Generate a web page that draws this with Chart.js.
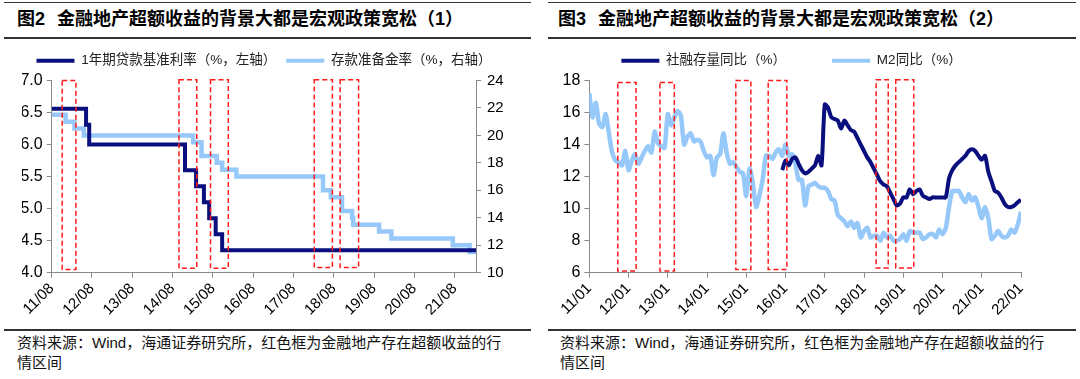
<!DOCTYPE html>
<html><head><meta charset="utf-8">
<script src="https://cdn.jsdelivr.net/npm/chart.js@4/dist/chart.umd.min.js"></script>
<style>
html,body{margin:0;padding:0;background:#fff;width:1080px;height:379px;overflow:hidden;}
body{position:relative;font-family:"Liberation Sans","Noto Sans CJK SC",sans-serif;color:#000;}
.rule{position:absolute;background:#333;}
.title{position:absolute;top:8px;font-size:18px;font-weight:bold;line-height:22px;white-space:nowrap;color:#000;}
.title span.t{margin-left:12px;}
.src{position:absolute;top:333px;font-size:15px;line-height:20px;color:#111;white-space:nowrap;}
canvas.cv{position:absolute;top:44px;}
</style></head><body>
<div class="rule" style="left:4px;top:2px;width:527px;height:1px;"></div>
<div class="rule" style="left:4px;top:37px;width:527px;height:2px;"></div>
<div class="rule" style="left:4px;top:329px;width:527px;height:2px;"></div>
<div class="rule" style="left:548px;top:2px;width:528px;height:1px;"></div>
<div class="rule" style="left:548px;top:37px;width:528px;height:2px;"></div>
<div class="rule" style="left:548px;top:329px;width:528px;height:2px;"></div>
<div class="title" style="left:17px;"><span>图2</span><span class="t">金融地产超额收益的背景大都是宏观政策宽松（1）</span></div>
<div class="title" style="left:558px;"><span>图3</span><span class="t">金融地产超额收益的背景大都是宏观政策宽松（2）</span></div>
<div class="src" style="left:17px;">资料来源：Wind，海通证券研究所，红色框为金融地产存在超额收益的行<br>情区间</div>
<div class="src" style="left:560px;">资料来源：Wind，海通证券研究所，红色框为金融地产存在超额收益的行<br>情区间</div>
<canvas id="c1" class="cv" width="540" height="286" style="left:0px;"></canvas>
<canvas id="c2" class="cv" width="540" height="286" style="left:540px;"></canvas>
<script>
// ---------- Data: chart 1 (monthly axis starting 2011-08) ----------
const leftTickLabels = ['11/08','12/08','13/08','14/08','15/08','16/08','17/08','18/08','19/08','20/08','21/08'];
const leftAxisEnd = '2022-02-12';
const lendDates = ['2011-08-01','2012-06-08','2012-07-06','2014-11-22','2015-03-01','2015-05-11','2015-06-28','2015-08-26','2015-10-24','2022-02-12'];
const lendRates = [6.56, 6.31, 6.00, 5.60, 5.35, 5.10, 4.85, 4.60, 4.35, 4.35];
const rrrDates = ['2011-08-01','2011-12-05','2012-02-24','2012-05-18','2015-02-05','2015-04-20','2015-09-06','2015-10-24','2016-03-01','2018-04-25','2018-07-05','2018-10-15','2019-01-15','2019-01-25','2019-09-16','2020-01-06','2021-07-15','2021-12-15','2022-02-12'];
const rrrValues = [21.5, 21.0, 20.5, 20.0, 19.5, 18.5, 18.0, 17.5, 17.0, 16.0, 15.5, 14.5, 14.0, 13.5, 13.0, 12.5, 12.0, 11.5, 11.5];
const leftBoxStarts = ['2011-11-05','2014-09-28','2015-07-10','2018-02-07','2018-09-28'];
const leftBoxEnds   = ['2012-03-07','2015-03-07','2015-12-19','2018-07-19','2019-03-13'];
const leftBoxLows   = [4.05, 4.07, 4.07, 4.08, 4.08];
const leftBoxHighs  = [7.0, 7.01, 7.01, 7.01, 7.01];

// ---------- Data: chart 2 (monthly axis starting 2011-01) ----------
const rightTickLabels = ['11/01','12/01','13/01','14/01','15/01','16/01','17/01','18/01','19/01','20/01','21/01','22/01'];
const m2Start = '2011-01';
const m2Values = [
 17.2,15.7,16.6,15.3,15.1,15.9,14.7,13.5,13.0,12.9,12.7,13.6,
 12.4,13.0,13.4,12.8,13.2,13.6,13.9,13.5,14.8,14.1,13.9,13.8,
 15.9,15.2,15.7,16.1,15.8,14.0,14.5,14.7,14.2,14.3,14.2,13.6,
 13.2,13.3,12.1,13.2,13.4,14.7,13.5,12.8,12.9,12.6,12.3,12.2,
 10.8,12.5,11.6,10.1,10.8,11.8,13.3,13.3,13.1,13.5,13.7,13.3,
 14.0,13.3,13.4,12.8,11.8,11.8,10.2,11.4,11.5,11.6,11.4,11.3,
 11.3,11.1,10.6,10.5,9.6,9.4,9.2,8.9,9.2,8.8,9.1,8.2,
 8.6,8.8,8.2,8.3,8.3,8.0,8.5,8.2,8.3,8.0,8.0,8.1,
 8.4,8.0,8.6,8.5,8.5,8.5,8.1,8.2,8.4,8.4,8.2,8.7,
 8.4,8.8,10.1,11.1,11.1,11.1,10.7,10.4,10.9,10.5,10.7,10.1,
 9.4,10.1,9.4,8.1,8.3,8.6,8.3,8.2,8.3,8.7,8.5,9.0,
 9.8];
const tsfStart = '2015-12';
const tsfValues = [
 12.4,
 13.0,12.7,13.1,13.2,12.8,12.4,12.2,12.3,12.5,12.7,13.3,12.7,
 16.5,16.3,15.7,15.6,15.5,15.0,15.5,15.2,14.9,14.8,14.4,14.0,
 13.6,13.2,12.9,12.5,12.1,11.7,11.5,11.4,11.0,10.6,10.2,10.3,
 10.7,10.7,11.2,10.9,11.1,11.2,10.8,10.7,10.6,10.7,10.7,10.7,
 10.7,10.7,11.9,12.4,12.7,12.9,13.1,13.3,13.6,13.7,13.6,13.3,
 13.05,13.3,12.3,11.7,11.1,11.0,10.7,10.3,10.1,10.1,10.2,10.4,
 10.55];
const rightAxisEnd = '2022-01';
const rightBoxStarts = ['2011-09-22','2012-10-19','2014-09-25','2015-07-22','2018-04-22','2018-10-22'];
const rightBoxEnds   = ['2012-03-10','2013-03-01','2015-02-13','2016-01-13','2018-08-13','2019-04-07'];
const rightBoxLows   = [6.1, 6.1, 6.2, 6.2, 6.3, 6.3];
const rightBoxHighs  = [17.88, 17.88, 18.0, 18.0, 18.05, 18.05];

// ---------- helpers ----------
function monthIdx(s, base) {
  const p = s.split('-').map(Number), b = base.split('-').map(Number);
  return (p[0]-b[0])*12 + (p[1]-b[1]) + ((p[2]||1)-1)/30;
}
const FONT = '"Liberation Sans","Noto Sans CJK SC",sans-serif';
const NAVY = '#0a0f7e';
const LIGHT = '#96c9fa';
const AX = '#8a8a8a';
Chart.defaults.font.family = FONT;

const boxPlugin = {
  id: 'redBoxes',
  afterDatasetsDraw(chart, args, opts) {
    const xs = chart.scales.x, ys = chart.scales[opts.axis];
    const ctx = chart.ctx;
    ctx.save();
    ctx.strokeStyle = '#ff1a1a';
    ctx.lineWidth = 1.5;
    ctx.setLineDash([5, 3]);
    opts.boxes.forEach(b => {
      const x1 = xs.getPixelForValue(b.x0), x2 = xs.getPixelForValue(b.x1);
      const y1 = ys.getPixelForValue(b.hi), y2 = ys.getPixelForValue(b.lo);
      ctx.strokeRect(x1, y1, x2 - x1, y2 - y1);
    });
    ctx.restore();
  }
};

function legendCfg(pad) {
  return {
    position: 'top', weight: 3000,
    labels: {
      boxWidth: 38, boxHeight: 4, padding: pad, color: '#222', font: {size: 13.5, family: FONT},
      generateLabels: (chart) => Chart.defaults.plugins.legend.labels.generateLabels(chart)
        .map(l => Object.assign(l, {lineWidth: 0}))
    }
  };
}
function spacerTitle(h) {
  return {display: true, text: '', padding: {top: h, bottom: 0}, font: {size: 0, lineHeight: 0}};
}
function xScale(labels, max, height) {
  return {
    type: 'linear', min: 0, max: max,
    afterBuildTicks: s => { s.ticks = labels.map((_, i) => ({value: i * 12})); },
    ticks: {callback: v => labels[Math.round(v / 12)], minRotation: 45, maxRotation: 45, autoSkip: false,
            font: {size: 15, family: FONT}, color: '#000', padding: 2},
    grid: {drawOnChartArea: false, tickLength: 5, color: AX},
    border: {color: AX, width: 1},
    afterFit: s => { s.height = height; }
  };
}

// ---------- chart 1 ----------
const B1 = '2011-08';
const lendData = lendDates.map((d, i) => ({x: monthIdx(d, B1), y: lendRates[i]}));
const rrrData = rrrDates.map((d, i) => ({x: monthIdx(d, B1), y: rrrValues[i]}));
new Chart(document.getElementById('c1'), {
  type: 'line',
  data: {datasets: [
    {label: '1年期贷款基准利率（%，左轴）', data: lendData, yAxisID: 'y', borderColor: NAVY, backgroundColor: NAVY,
     borderWidth: 4, stepped: true, pointRadius: 0},
    {label: '存款准备金率（%，右轴）', data: rrrData, yAxisID: 'y1', borderColor: LIGHT, backgroundColor: LIGHT,
     borderWidth: 4.5, stepped: true, pointRadius: 0}
  ]},
  options: {
    responsive: false, animation: false, devicePixelRatio: 1,
    layout: {padding: {top: 0, left: 22, right: 34, bottom: 0}},
    plugins: {
      legend: legendCfg(10), title: spacerTitle(3), tooltip: {enabled: false},
      redBoxes: {axis: 'y', boxes: leftBoxStarts.map((s, i) => ({x0: monthIdx(s, B1), x1: monthIdx(leftBoxEnds[i], B1), lo: leftBoxLows[i], hi: leftBoxHighs[i]}))}
    },
    scales: {
      x: xScale(leftTickLabels, monthIdx(leftAxisEnd, B1), 57.3),
      y: {position: 'left', min: 4, max: 7,
          ticks: {stepSize: 0.5, callback: v => v.toFixed(1), font: {size: 16, family: FONT}, color: '#000', padding: 4},
          grid: {drawOnChartArea: false, tickLength: 5, color: AX}, border: {color: AX},
          afterFit: s => { s.width = 29.7; }},
      y1: {position: 'right', min: 10, max: 24,
          ticks: {stepSize: 2, font: {size: 15, family: FONT}, color: '#000', padding: 6},
          grid: {drawOnChartArea: false, tickLength: 5, color: AX}, border: {color: AX},
          afterFit: s => { s.width = 30; }}
    }
  },
  plugins: [boxPlugin]
});

// ---------- chart 2 ----------
const B2 = '2011-01';
const m2Off = monthIdx(m2Start, B2), tsfOff = monthIdx(tsfStart, B2);
const m2Data = m2Values.map((v, i) => ({x: m2Off + i, y: v}));
const tsfData = tsfValues.map((v, i) => ({x: tsfOff + i, y: v}));
new Chart(document.getElementById('c2'), {
  type: 'line',
  data: {datasets: [
    {label: '社融存量同比（%）', data: tsfData, borderColor: NAVY, backgroundColor: NAVY, borderWidth: 4,
     tension: 0.25, pointRadius: 0},
    {label: 'M2同比（%）', data: m2Data, borderColor: LIGHT, backgroundColor: LIGHT, borderWidth: 4.5,
     tension: 0.25, pointRadius: 0}
  ]},
  options: {
    responsive: false, animation: false, devicePixelRatio: 1,
    layout: {padding: {top: -36, left: 22, right: 59, bottom: 0}},
    plugins: {
      legend: legendCfg(46), title: spacerTitle(3), tooltip: {enabled: false},
      redBoxes: {axis: 'y', boxes: rightBoxStarts.map((s, i) => ({x0: monthIdx(s, B2), x1: monthIdx(rightBoxEnds[i], B2), lo: rightBoxLows[i], hi: rightBoxHighs[i]}))}
    },
    scales: {
      x: xScale(rightTickLabels, monthIdx(rightAxisEnd, B2), 57.3),
      y: {position: 'left', min: 6, max: 18,
          ticks: {stepSize: 2, font: {size: 16, family: FONT}, color: '#000', padding: 4},
          grid: {drawOnChartArea: false, tickLength: 5, color: AX}, border: {color: AX},
          afterFit: s => { s.width = 27.3; }}
    }
  },
  plugins: [boxPlugin]
});
</script>
</body></html>
